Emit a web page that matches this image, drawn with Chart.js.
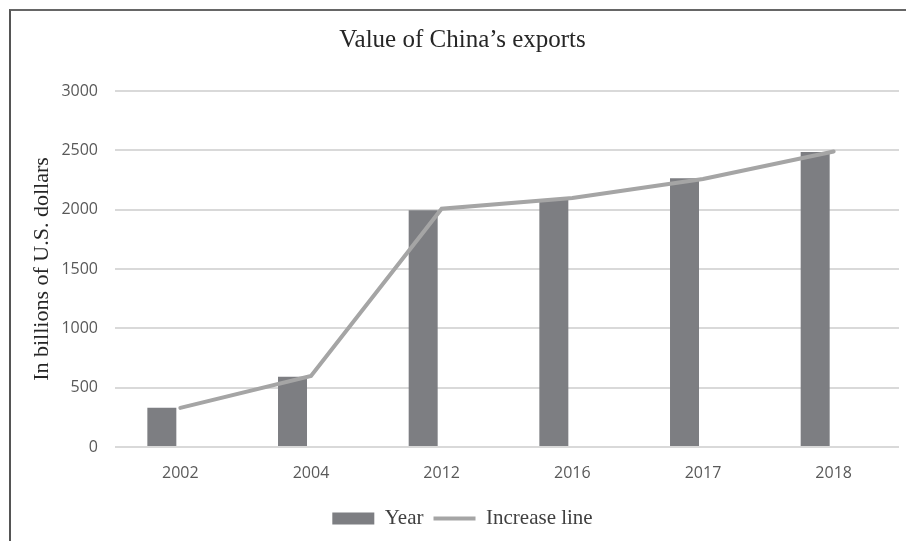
<!DOCTYPE html>
<html>
<head>
<meta charset="utf-8">
<script src="https://cdn.jsdelivr.net/npm/chart.js@4/dist/chart.umd.min.js"></script>
<style>
  body { margin: 0; background: #fff; }
  #wrap { position: relative; width: 906px; height: 541px; overflow: hidden; }
  #frame { position: absolute; left: 9px; top: 9px; width: 1000px; height: 1000px;
           border-left: 2px solid #555; border-top: 2px solid #666; }
  canvas { position: absolute; left: 0; top: 0; }
</style>
</head>
<body>
<div id="wrap">
  <div id="frame"></div>
  <canvas id="chart" width="906" height="541"></canvas>
</div>
<script>
// values (billions of US dollars)
var years = ["2002", "2004", "2012", "2016", "2017", "2018"];
var barValues = [330, 592, 1995, 2088, 2265, 2485];
var lineValues = [330, 598, 2008, 2098, 2258, 2490];
var yTicks = [0, 500, 1000, 1500, 2000, 2500, 3000];

var serif = "'Liberation Serif', 'Times New Roman', serif";
var sans = "'Open Sans', sans-serif";

var ctx = document.getElementById("chart");
new Chart(ctx, {
    type: "bar",
    data: {
        labels: years,
        datasets: [{
                type: "line",
                label: "Increase line",
                data: lineValues,
                borderColor: "#a5a5a5",
                backgroundColor: "#a5a5a5",
                borderWidth: 4,
                borderCapStyle: "round",
                pointRadius: 0,
                pointStyle: "line",
                tension: 0,
                order: 0
            },
            {
                label: "Year",
                data: barValues,
                backgroundColor: "#7d7e82",
                borderWidth: 0,
                pointStyle: "rect",
                order: 1
            },
            {
                // empty second column slot, so the bars sit left of the tick like in Excel
                label: "",
                data: [null, null, null, null, null, null],
                backgroundColor: "rgba(0,0,0,0)",
                order: 2
            }
        ]
    },
    options: {
        responsive: false,
        animation: false,
        categoryPercentage: 0.566,
        barPercentage: 0.784,
        layout: {
            padding: { left: 26, right: 7, top: 10, bottom: 2 }
        },
        plugins: {
            title: {
                display: true,
                text: "Value of China\u2019s exports",
                color: "#262626",
                font: { family: serif, size: 25, weight: "normal" },
                padding: { top: 15, bottom: 36 }
            },
            legend: {
                position: "bottom",
                labels: {
                    filter: function (item) { return item.text !== ""; },
                    usePointStyle: true,
                    pointStyleWidth: 42,
                    boxHeight: 12,
                    padding: 10,
                    color: "#404040",
                    font: { family: serif, size: 21 }
                },
                reverse: true
            },
            tooltip: { enabled: false }
        },
        scales: {
            x: {
                grid: { display: false, drawTicks: false },
                border: { display: false },
                ticks: {
                    color: "#595959",
                    padding: 17,
                    font: { family: sans, size: 16 }
                },
                afterFit: function (scale) { scale.height = 51; }
            },
            y: {
                min: 0,
                max: 3000,
                afterBuildTicks: function (scale) {
                    scale.ticks = yTicks.map(function (v) { return { value: v }; });
                },
                grid: { color: "#d9d9d9", lineWidth: 2, drawTicks: false },
                border: { display: false },
                ticks: {
                    color: "#595959",
                    padding: 17,
                    font: { family: sans, size: 16 },
                    callback: function (v) { return String(v); }
                },
                title: {
                    display: true,
                    text: "In billions of U.S. dollars",
                    color: "#262626",
                    font: { family: serif, size: 22 },
                    padding: { top: 3, bottom: 0 }
                },
                afterFit: function (scale) { scale.width = 89; }
            }
        }
    }
});
</script>
</body>
</html>
